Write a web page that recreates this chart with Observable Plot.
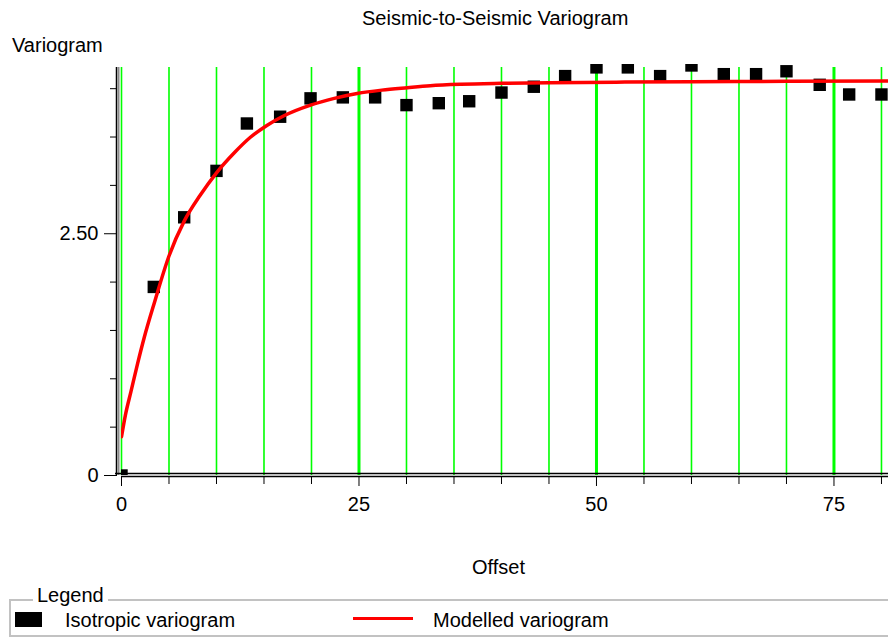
<!DOCTYPE html>
<html>
<head>
<meta charset="utf-8">
<script src="https://cdn.jsdelivr.net/npm/d3@7"></script>
<script src="https://cdn.jsdelivr.net/npm/@observablehq/plot@0.6"></script>
<style>
  body { margin: 0; background: #fff; }
  #wrap { position: relative; width: 888px; height: 639px; overflow: hidden;
          font-family: "Liberation Sans", Arial, sans-serif; font-size: 20px; color: #000; background: #fff; }
  .t { position: absolute; line-height: 1; white-space: nowrap; }
  #chart { position: absolute; left: 0; top: 0; }
  #legendBox { position: absolute; left: 9px; top: 599px; width: 900px; height: 38px;
               border: 2px solid #c2c2c2; box-sizing: border-box; }
</style>
</head>
<body>
<div id="wrap">
  <div id="chart"></div>
  <div class="t" style="left:362px; top:8px;">Seismic-to-Seismic Variogram</div>
  <div class="t" style="left:12px; top:35px;">Variogram</div>
  <div class="t" style="left:472px; top:557px;">Offset</div>
  <div id="legendBox"></div>
  <div class="t" style="left:33px; top:585px; background:#fff; padding:0 4px;">Legend</div>
  <div style="position:absolute; left:15px; top:612px; width:27px; height:15px; background:#000;"></div>
  <div class="t" style="left:65px; top:610px;">Isotropic variogram</div>
  <div style="position:absolute; left:353px; top:617px; width:60px; height:3px; background:#ff0000;"></div>
  <div class="t" style="left:433px; top:610px;">Modelled variogram</div>
</div>
<script>
// Experimental variogram points (offset, variogram)
const offsets = [0, 3.4, 6.6, 10.0, 13.2, 16.7, 19.9, 23.3, 26.7, 30.0, 33.4, 36.6, 40.0, 43.4, 46.7, 50.0, 53.3, 56.7, 60.0, 63.4, 66.8, 70.0, 73.5, 76.6, 80.0];
const gammas  = [0, 1.95, 2.67, 3.15, 3.64, 3.71, 3.90, 3.91, 3.91, 3.83, 3.85, 3.87, 3.96, 4.02, 4.13, 4.22, 4.22, 4.13, 4.24, 4.15, 4.15, 4.18, 4.04, 3.94, 3.94];

// Modelled variogram curve
const modelOffsets = [0, 0.4, 1.0, 1.7, 2.4, 3.5, 5.0, 6.6, 8.3, 10.0, 11.9, 13.6, 15.3, 17.1, 19.9, 22.4, 24.8, 27.4, 30.1, 32.5, 35.7, 40, 45, 53, 60, 70, 81];
const modelGammas  = [0.40, 0.62, 0.87, 1.16, 1.43, 1.80, 2.27, 2.63, 2.90, 3.13, 3.34, 3.50, 3.62, 3.72, 3.83, 3.90, 3.95, 3.985, 4.01, 4.03, 4.045, 4.055, 4.062, 4.068, 4.072, 4.076, 4.08];

// Ticks
const xTicks = [0, 5, 10, 15, 20, 25, 30, 35, 40, 45, 50, 55, 60, 65, 70, 75, 80];
const xLabelTicks = [0, 25, 50, 75];
const yTicks = [0, 0.5, 1, 1.5, 2, 2.5, 3, 3.5, 4];
const yLabelTicks = [0, 2.5];
const yLabelText = ["0", "2.50"];

const points = offsets.map((x, i) => ({x, y: gammas[i]}));
const model = modelOffsets.map((x, i) => ({x, y: modelGammas[i]}));
const xMinor = xTicks.filter(d => !xLabelTicks.includes(d));
const yMinor = yTicks.filter(d => !yLabelTicks.includes(d));
const gridTop = 4.22;

const chart = Plot.plot({
  width: 888,
  height: 585,
  marginLeft: 121,
  marginRight: 0,
  marginTop: 64,
  marginBottom: 110,
  style: {fontFamily: '"Liberation Sans", Arial, sans-serif', fontSize: "20px", color: "#000", background: "transparent", overflow: "visible"},
  x: {domain: [0, 80.74], label: null},
  y: {domain: [0, 4.25], label: null},
  marks: [
    Plot.ruleX(xMinor, {y1: 0, y2: gridTop, stroke: "#00ff00", strokeWidth: 1.6}),
    Plot.ruleX(xLabelTicks.filter(d => d > 0), {y1: 0, y2: gridTop, stroke: "#00ff00", strokeWidth: 3}),
    Plot.ruleX([0], {y1: 0, y2: gridTop, stroke: "#00ff00", strokeWidth: 1.6}),
    Plot.dot(points, {x: "x", y: "y", symbol: "square", r: 7, fill: "#000", clip: true}),
    Plot.line(model, {x: "x", y: "y", stroke: "#ff0000", strokeWidth: 3.5, curve: "monotone-x", clip: true}),
    // axis lines
    Plot.ruleX([0], {y1: 0, y2: gridTop, dx: -5, stroke: "#000", strokeWidth: 1.5}),
    Plot.ruleX([0], {y1: 0, y2: gridTop, dx: -3, stroke: "#8a8a8a", strokeWidth: 2}),
    Plot.ruleY([0], {dy: -2, insetLeft: -6, stroke: "#000", strokeWidth: 1.5}),
    Plot.ruleY([0], {dy: 1, stroke: "#000", strokeWidth: 1.5}),
    // y axis ticks and labels
    Plot.axisY(yLabelTicks, {tickSize: 13, dx: -4, tickFormat: () => ""}),
    Plot.axisY(yMinor, {tickSize: 7, dx: -4, tickFormat: () => ""}),
    Plot.axisY(yLabelTicks, {tickSize: 0, tickPadding: 23, textAnchor: "end", tickFormat: d => yLabelText[yLabelTicks.indexOf(d)]}),
    // x axis ticks and labels
    Plot.axisX(xMinor, {tickSize: 8, tickFormat: () => "", dy: 1}),
    Plot.axisX(xLabelTicks, {tickSize: 10, tickPadding: 10, dy: 1, tickFormat: d => String(d)})
  ]
});
document.getElementById("chart").appendChild(chart);
</script>
</body>
</html>
